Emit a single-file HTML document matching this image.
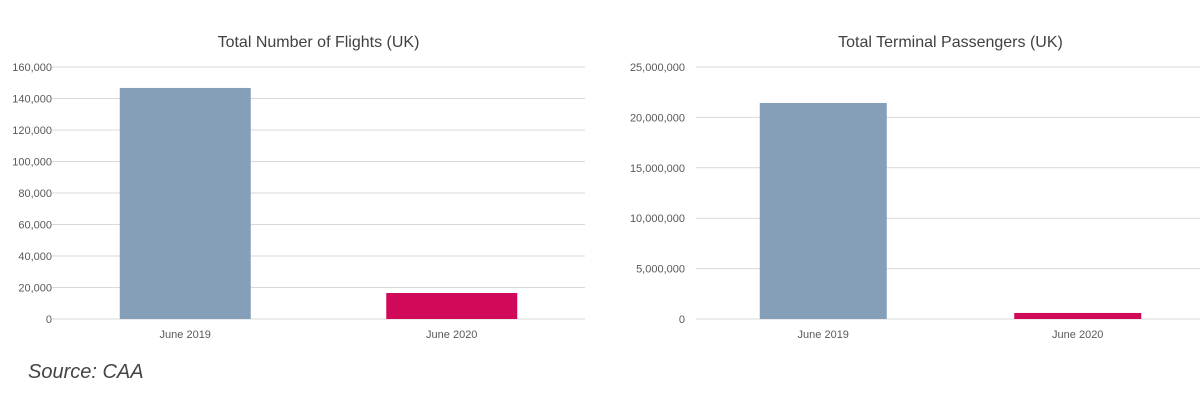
<!DOCTYPE html>
<html><head><meta charset="utf-8"><style>
body{margin:0;background:#fff;width:1200px;height:400px;overflow:hidden;font-family:"Liberation Sans",sans-serif}
svg text{font-family:"Liberation Sans",sans-serif}
</style></head><body>
<svg id="c" width="1200" height="400">
<text x="28" y="378" font-size="20" font-style="italic" fill="#444">Source: CAA</text>
</svg>
<script>
const categories=["June 2019","June 2020"];
const flightsValues=[146700,16500];
const flightsTicks=[0,20000,40000,60000,80000,100000,120000,140000,160000];
const paxValues=[21430000,600000];
const paxTicks=[0,5000000,10000000,15000000,20000000,25000000];
const colors=["#849fb7","#d00a58"];
const svg=document.getElementById('c');
const NS="http://www.w3.org/2000/svg";
function mk(t,a){const e=document.createElementNS(NS,t);for(const k in a)e.setAttribute(k,a[k]);svg.appendChild(e);return e;}
function chart(o,vals,ticks,title,prefix){
 const y0=319,y1=67,max=ticks[ticks.length-1];
 const y=v=>y0-(v/max)*(y0-y1);
 const bw=(o.x1-o.x0)/categories.length;
 const x=i=>o.x0+bw*i+bw/2;
 const t=mk('text',{x:(o.x0+o.x1)/2,y:47,'font-size':16,fill:'#404040','text-anchor':'middle'});
 t.textContent=title;
 
 
 ticks.forEach(v=>{
  const l=mk('line',{x1:o.x0,x2:o.x1,y1:y(v),y2:y(v),stroke:'#d9d9d9','stroke-width':1});
  
  
  const tx=mk('text',{x:o.lx,y:y(v)+4,'font-size':11,fill:'#595959','text-anchor':'end'});
  tx.textContent=v.toLocaleString('en-US');
  
  
 });
 vals.forEach((v,i)=>{
  const r=mk('rect',{x:x(i)-o.bar/2,y:y(v),width:o.bar,height:y0-y(v),fill:colors[i]});
  
  
  const tx=mk('text',{x:x(i),y:338,'font-size':11,fill:'#595959','text-anchor':'middle'});
  tx.textContent=categories[i];
  
  
 });
}
chart({x0:52,x1:585,lx:52,bar:131},flightsValues,flightsTicks,"Total Number of Flights (UK)","flights");
chart({x0:696,x1:1205,lx:685,bar:127},paxValues,paxTicks,"Total Terminal Passengers (UK)","passengers");
</script>
</body></html>
